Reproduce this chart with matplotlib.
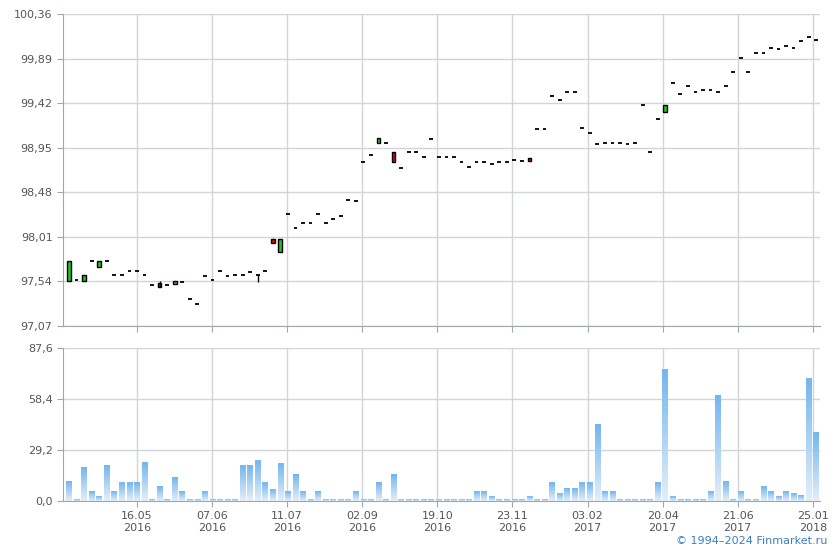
import numpy as np
import matplotlib.pyplot as plt
from matplotlib.colors import LinearSegmentedColormap

# open / close per session (equal = doji dash)
opens = [97.545, 97.555, 97.545, 97.756, 97.69, 97.756, 97.605, 97.605, 97.647, 97.647,
         97.61, 97.50, 97.52, 97.50, 97.51, 97.535, 97.355, 97.30, 97.594, 97.555,
         97.647, 97.594, 97.605, 97.605, 97.636, 97.605, 97.647, 97.99, 97.85, 98.25,
         98.10, 98.155, 98.155, 98.25, 98.155, 98.20, 98.23, 98.40, 98.39, 98.80,
         98.87, 99.00, 99.00, 98.90, 98.74, 98.90, 98.91, 98.85, 99.04, 98.85,
         98.85, 98.85, 98.80, 98.75, 98.80, 98.80, 98.775, 98.80, 98.80, 98.82,
         98.81, 98.84, 99.145, 99.145, 99.50, 99.45, 99.54, 99.54, 99.155, 99.10,
         98.985, 99.00, 99.00, 99.00, 98.99, 99.00, 99.40, 98.90, 99.25, 99.33,
         99.63, 99.52, 99.60, 99.54, 99.555, 99.555, 99.54, 99.60, 99.745, 99.90,
         99.745, 99.945, 99.945, 99.998, 99.99, 100.02, 99.998, 100.075, 100.115, 100.085]
closes = list(opens)
closes[0] = 97.76
closes[2] = 97.61
closes[4] = 97.756
closes[12] = 97.48
closes[14] = 97.54
closes[27] = 97.95
closes[28] = 97.99
closes[41] = 99.05
closes[43] = 98.80
closes[61] = 98.81
closes[79] = 99.40
lows = [min(o, c) for o, c in zip(opens, closes)]
highs = [max(o, c) for o, c in zip(opens, closes)]
highs[12] = 97.54
lows[25] = 97.53

volume = [11.2, 1, 19.2, 5.4, 2.5, 20.4, 5.4, 10.6, 10.6, 10.6,
          22, 1, 8.3, 1, 13.5, 5.4, 1, 1, 5.4, 1,
          1, 1, 1, 20.4, 20.4, 23.3, 10.6, 6.5, 21.5, 5.4,
          15.2, 5.4, 1, 5.4, 1, 1, 1, 1, 5.4, 1,
          1, 10.6, 1, 15.2, 1, 1, 1, 1, 1, 1,
          1, 1, 1, 1, 5.4, 5.4, 2.5, 1, 1, 1,
          1, 2.5, 1, 1, 10.6, 4.2, 7.1, 7.1, 10.6, 10.6,
          44, 5.4, 5.4, 1, 1, 1, 1, 1, 10.6, 75.2,
          2.5, 1, 1, 1, 1, 5.4, 60.2, 11.2, 1, 5.4,
          1, 1, 8.3, 5.4, 2.5, 5.4, 4.2, 3.1, 70, 39.4]

tick_labels = ['16.05\n2016', '07.06\n2016', '11.07\n2016', '02.09\n2016', '19.10\n2016',
               '23.11\n2016', '03.02\n2017', '20.04\n2017', '21.06\n2017', '25.01\n2018']
price_ticks = [97.07, 97.54, 98.01, 98.48, 98.95, 99.42, 99.89, 100.36]
vol_ticks = [0, 29.2, 58.4, 87.6]

n = len(opens)
x = np.arange(n)
tick_pos = 9 + 9.95 * np.arange(len(tick_labels))

fig = plt.figure(figsize=(8.4, 5.5), dpi=100)
ax1 = fig.add_axes([63 / 840, 1 - 326 / 550, 757 / 840, 312 / 550])
ax2 = fig.add_axes([63 / 840, 1 - 501 / 550, 757 / 840, 153 / 550])

grid_c = '#d0d5da'
txt_c = '#555555'
for ax in (ax1, ax2):
    ax.set_xlim(-0.8, 99.5)
    ax.set_xticks(tick_pos)
    ax.grid(True, color=grid_c, linewidth=1)
    ax.set_axisbelow(True)
    for s in ['top', 'right']:
        ax.spines[s].set_visible(False)
    ax.spines['left'].set_color('#a0a6ad')
    ax.spines['bottom'].set_color('#a0a6ad')
    ax.tick_params(colors='#a0a6ad', labelcolor=txt_c, labelsize=8, length=4)

w = 0.5
for i in x:
    o, c = opens[i], closes[i]
    if highs[i] > max(o, c) or lows[i] < min(o, c):
        ax1.vlines(i, lows[i], highs[i], color='black', linewidth=1)
    if o == c:
        ax1.hlines(o, i - w / 2, i + w / 2, color='black', linewidth=1.3)
    else:
        col = '#22c31f' if c > o else '#d01010'
        ax1.bar(i, abs(c - o), w, bottom=min(o, c), color=col,
                edgecolor='black', linewidth=1)

ax1.set_ylim(97.07, 100.36)
ax1.set_yticks(price_ticks)
ax1.set_yticklabels([f'{t:.2f}'.replace('.', ',') for t in price_ticks])
ax1.set_xticklabels([])

cmap = LinearSegmentedColormap.from_list('vb', ['#e3eefa', '#74b6ee'])
grad = np.linspace(0, 1, 64).reshape(-1, 1)
bw = 0.75
for i in x:
    ax2.imshow(grad, cmap=cmap, origin='lower', aspect='auto',
               extent=[i - bw / 2, i + bw / 2, 0, volume[i]], zorder=2)
ax2.set_ylim(0, 87.6)
ax2.set_yticks(vol_ticks)
ax2.set_yticklabels([f'{t:.1f}'.replace('.', ',') for t in vol_ticks])
ax2.set_xticklabels(tick_labels)
ax2.set_xlim(-0.8, 99.5)

fig.text(0.985, 0.008, '© 1994–2024 Finmarket.ru', ha='right', va='bottom',
         fontsize=8, color='#3a7ccc')

fig.savefig('out.png', dpi=100)
